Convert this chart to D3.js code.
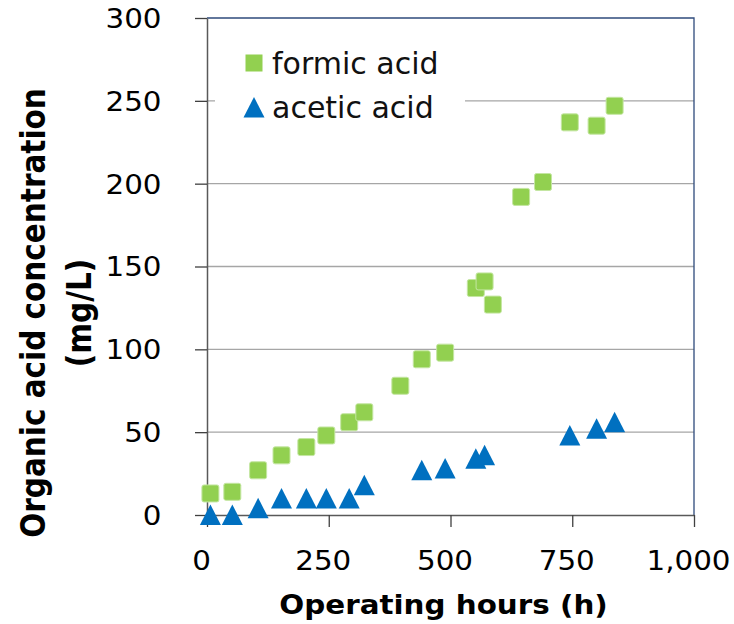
<!DOCTYPE html>
<html>
<head>
<meta charset="utf-8">
<script src="https://cdn.jsdelivr.net/npm/d3@7"></script>
<style>
  body { margin: 0; background: #fff; }
  text { font-family: "DejaVu Sans", Verdana, sans-serif; }
</style>
</head>
<body>
<div class="canva"></div>
<script>
// data
const formicHours = [7, 52, 105, 153, 204, 245, 292, 323, 397, 441, 489, 552, 570, 587, 645, 690, 745, 800, 837];
const formicConc  = [13, 14, 27, 36, 41, 48, 56, 62, 78, 94, 98, 137, 141, 127, 192, 201, 237, 235, 247];
const aceticHours = [7, 52, 105, 153, 204, 245, 292, 323, 441, 489, 552, 570, 745, 800, 837];
const aceticConc  = [0, 0, 4, 10, 10, 10, 10, 18, 27, 28, 34, 36, 48, 52, 56];
const xTicks = [0, 250, 500, 750, 1000];
const yTicks = [0, 50, 100, 150, 200, 250, 300];
const seriesNames = ['formic acid', 'acetic acid'];

const width = 734, height = 624;
const margin = {top: 18, right: 40, bottom: 109, left: 207};
const graphWidth = width - margin.left - margin.right;
const graphHeight = height - margin.top - margin.bottom;
// the source picture is a bit wider than tall, text is stretched sideways
const stretch = 1.13;

const svg = d3.select('.canva').append('svg')
              .attr('width', width)
              .attr('height', height);

const graph = svg.append('g')
                 .attr('transform', `translate(${margin.left}, ${margin.top})`);

const x = d3.scaleLinear().domain([0, 1000]).range([0, graphWidth]);
const y = d3.scaleLinear().domain([0, 300]).range([graphHeight, 0]);

// gridlines
graph.append('g').selectAll('line')
     .data(yTicks.filter(d => d > 0 && d < 300))
     .enter().append('line')
     .attr('x1', 0).attr('x2', graphWidth)
     .attr('y1', d => y(d)).attr('y2', d => y(d))
     .attr('stroke', '#a6a6a6').attr('stroke-width', 1.3);

// top and right frame
graph.append('path')
     .attr('d', `M0,${y(300)}H${x(1000)}V${y(0)}`)
     .attr('fill', 'none').attr('stroke', '#2f4b7c').attr('stroke-width', 1.3);

// legend background covers the grid
graph.append('rect')
     .attr('x', 8).attr('y', 18).attr('width', 250).attr('height', 115)
     .attr('fill', '#fff');

// axes
const yAxis = d3.axisLeft(y).tickValues(yTicks).tickSize(12).tickSizeOuter(0);
const xAxis = d3.axisBottom(x).tickValues(xTicks).tickSize(12).tickSizeOuter(0)
                .tickFormat(d3.format(','));

const yAxisGroup = graph.append('g').call(yAxis);
const xAxisGroup = graph.append('g').attr('transform', `translate(0, ${graphHeight})`).call(xAxis);

[yAxisGroup, xAxisGroup].forEach(g => {
  g.select('.domain').attr('stroke', '#595959').attr('stroke-width', 1.5);
  g.selectAll('.tick line').attr('stroke', '#404040').attr('stroke-width', 1.3);
  g.selectAll('.tick text').attr('fill', '#000').style('font-size', '26px')
   .style('font-family', '"DejaVu Sans", Verdana, sans-serif')
   .attr('transform', `scale(${stretch},1)`);
});
yAxisGroup.selectAll('.tick text').attr('x', -45.5 / stretch).attr('dy', '0.36em');
xAxisGroup.selectAll('.tick text').attr('x', -6 / stretch).attr('y', 46).attr('dy', '0.36em');

// formic acid squares
const sq = 17;
graph.append('g').selectAll('rect')
     .data(formicHours.map((h, i) => ({h, v: formicConc[i]})))
     .enter().append('rect')
     .attr('x', d => x(d.h) - sq / 2)
     .attr('y', d => y(d.v) - sq / 2)
     .attr('width', sq).attr('height', sq)
     .attr('rx', 2)
     .attr('fill', '#92d050')
     .attr('stroke', '#c4e6a2').attr('stroke-width', 1);

// acetic acid triangles
const tri = (cx, cy) => `M${cx - 10.5},${cy + 10}L${cx},${cy - 10.5}L${cx + 10.5},${cy + 10}Z`;
graph.append('g').selectAll('path')
     .data(aceticHours.map((h, i) => ({h, v: aceticConc[i]})))
     .enter().append('path')
     .attr('d', d => tri(x(d.h), y(d.v)))
     .attr('fill', '#0070c0');

// legend
const legend = graph.append('g');
legend.append('rect')
      .attr('x', 38.5).attr('y', 36.5).attr('width', sq).attr('height', sq)
      .attr('fill', '#92d050');
legend.append('path').attr('d', tri(47, 89.5)).attr('fill', '#0070c0');
legend.selectAll('text.leg')
      .data(seriesNames)
      .enter().append('text')
      .attr('class', 'leg')
      .attr('x', 65)
      .attr('y', (d, i) => 56 + i * 44)
      .style('font-size', '30px')
      .attr('fill', '#111')
      .text(d => d);

// axis titles
svg.append('text')
   .attr('transform', `translate(443.5, 614) scale(${stretch},1)`)
   .attr('text-anchor', 'middle')
   .style('font-size', '26px').style('font-weight', 'bold')
   .text('Operating hours (h)');

const yTitle = svg.append('text')
   .attr('transform', `translate(45, 313) scale(${stretch},1) rotate(-90)`)
   .attr('text-anchor', 'middle')
   .style('font-size', '29.5px').style('font-weight', 'bold');
yTitle.append('tspan').attr('x', 0).attr('y', 0).text('Organic acid concentration');
yTitle.append('tspan').attr('x', 0).attr('y', 46 / stretch).text('(mg/L)');
</script>
</body>
</html>
